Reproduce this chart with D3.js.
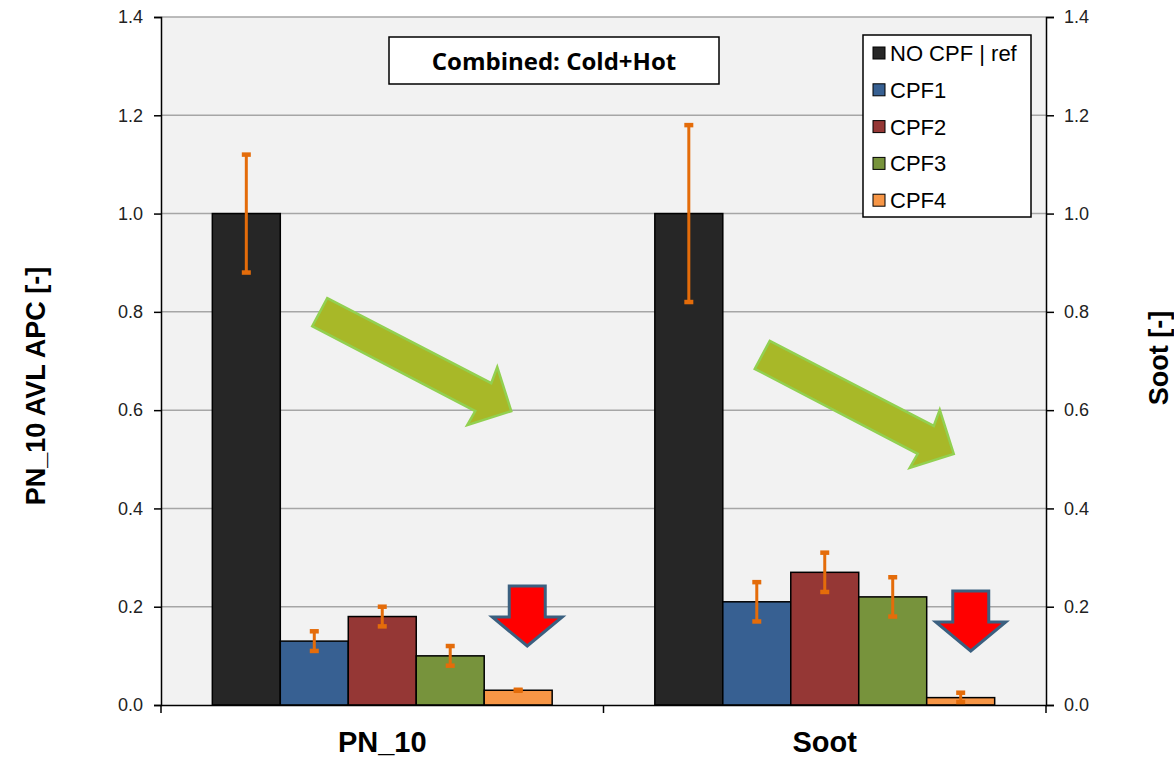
<!DOCTYPE html>
<html>
<head>
<meta charset="utf-8">
<script src="https://cdn.jsdelivr.net/npm/d3@7"></script>
<style>
  body { margin: 0; background: #fff; }
  svg { display: block; font-family: Arial, "Liberation Sans", sans-serif; }
</style>
</head>
<body>
<div id="chart"></div>
<script>
// data
const categories = ["PN_10", "Soot"];
const series = ["NO CPF | ref", "CPF1", "CPF2", "CPF3", "CPF4"];
const colors = ["#262626", "#376092", "#953735", "#77933c", "#f79646"];
const values = {
  "PN_10": [1.0, 0.13, 0.18, 0.10, 0.03],
  "Soot":  [1.0, 0.21, 0.27, 0.22, 0.015]
};
const errLow = {
  "PN_10": [0.88, 0.11, 0.16, 0.08, 0.029],
  "Soot":  [0.82, 0.17, 0.23, 0.18, 0.006]
};
const errHigh = {
  "PN_10": [1.12, 0.15, 0.20, 0.12, 0.031],
  "Soot":  [1.18, 0.25, 0.31, 0.26, 0.025]
};
const yTicks = [0, 0.2, 0.4, 0.6, 0.8, 1.0, 1.2, 1.4];

const W = 1174, H = 761;
const margin = { top: 17, right: 128, bottom: 56, left: 161 };
const width = W - margin.left - margin.right,
      height = H - margin.top - margin.bottom;

const svg = d3.select("#chart").append("svg")
  .attr("width", W).attr("height", H);
const g = svg.append("g")
  .attr("transform", `translate(${margin.left},${margin.top})`);

const x0 = d3.scaleBand().domain(categories).range([0, width])
  .paddingInner(0.232).paddingOuter(0.116);
const x1 = d3.scaleBand().domain(series).range([0, x0.bandwidth()]).padding(0);
const y = d3.scaleLinear().domain([0, 1.4]).range([height, 0]);

// plot area
g.append("rect").attr("width", width).attr("height", height).attr("fill", "#f2f2f2");

// gridlines
g.selectAll("line.grid").data(yTicks.filter(d => d > 0)).enter().append("line")
  .attr("class", "grid")
  .attr("x1", 0).attr("x2", width)
  .attr("y1", d => y(d)).attr("y2", d => y(d))
  .attr("stroke", "#a6a6a6").attr("stroke-width", 1.5);

// bars
const groups = g.selectAll("g.cat").data(categories).enter().append("g")
  .attr("class", "cat")
  .attr("transform", d => `translate(${x0(d)},0)`);

groups.selectAll("rect").data(c => series.map((s, i) => ({ c, s, i, v: values[c][i] })))
  .enter().append("rect")
  .attr("x", d => x1(d.s))
  .attr("y", d => y(d.v))
  .attr("width", x1.bandwidth())
  .attr("height", d => y(0) - y(d.v))
  .attr("fill", d => colors[d.i])
  .attr("stroke", "#000").attr("stroke-width", 1.5);

// error bars
const errData = c => series.map((s, i) => ({ s, lo: errLow[c][i], hi: errHigh[c][i] }));
const eb = groups.selectAll("g.err").data(errData).enter().append("g").attr("class", "err");
eb.append("line")
  .attr("x1", d => x1(d.s) + x1.bandwidth() / 2).attr("x2", d => x1(d.s) + x1.bandwidth() / 2)
  .attr("y1", d => y(d.lo)).attr("y2", d => y(d.hi))
  .attr("stroke", "#e46c0a").attr("stroke-width", 3);
["lo", "hi"].forEach(k => {
  eb.append("line")
    .attr("x1", d => x1(d.s) + x1.bandwidth() / 2 - 4.5).attr("x2", d => x1(d.s) + x1.bandwidth() / 2 + 4.5)
    .attr("y1", d => y(d[k])).attr("y2", d => y(d[k]))
    .attr("stroke", "#e46c0a").attr("stroke-width", 4.5);
});

// green trend arrows (offsets relative to tip)
const greenShape = [[-184, -113], [-20, -28], [-14, -44], [0, 0], [-44, 14], [-36, 0], [-199, -85]];
const greenTips = [{ c: "PN_10", dx: 129, v: 0.598 }, { c: "Soot", dx: 129, v: 0.511 }];
greenTips.forEach(t => {
  const tx = x0(t.c) + x0.bandwidth() / 2 + t.dx, ty = y(t.v);
  g.append("polygon")
    .attr("points", greenShape.map(p => [tx + p[0], ty + p[1]].join(",")).join(" "))
    .attr("fill", "#a8b828").attr("stroke", "#92d050").attr("stroke-width", 2.5)
    .attr("stroke-linejoin", "miter");
});

// red down arrows
const redShape = [[-18, -60], [18, -60], [18, -29], [35, -29], [0, 0], [-35, -29], [-18, -29]];
const redTips = [{ c: "PN_10", dx: 145, v: 0.12 }, { c: "Soot", dx: 146, v: 0.11 }];
redTips.forEach(t => {
  const tx = x0(t.c) + x0.bandwidth() / 2 + t.dx, ty = y(t.v);
  g.append("polygon")
    .attr("points", redShape.map(p => [tx + p[0], ty + p[1]].join(",")).join(" "))
    .attr("fill", "#ff0000").attr("stroke", "#3b6080").attr("stroke-width", 3);
});

// axes
const yL = g.append("g").call(d3.axisLeft(y).tickValues(yTicks).tickFormat(d3.format(".1f")).tickSize(7).tickPadding(11));
const yR = g.append("g").attr("transform", `translate(${width},0)`)
  .call(d3.axisRight(y).tickValues(yTicks).tickFormat(d3.format(".1f")).tickSize(8).tickPadding(10));
[yL, yR].forEach(a => {
  a.select(".domain").attr("stroke", "#000").attr("stroke-width", 1.5);
  a.selectAll(".tick line").attr("stroke", "#000").attr("stroke-width", 1.5);
  a.selectAll(".tick text").attr("fill", "#222").style("font-size", "18px")
    .style("font-family", "Arial, 'Liberation Sans', sans-serif");
});

const xAx = g.append("g").attr("transform", `translate(0,${height})`)
  .call(d3.axisBottom(x0).tickSize(0).tickPadding(26));
xAx.select(".domain").attr("stroke", "#000").attr("stroke-width", 1.5);
xAx.selectAll(".tick text").attr("fill", "#000").style("font-size", "29px").style("font-weight", "bold")
  .style("font-family", "Arial, 'Liberation Sans', sans-serif");
// category divider ticks
g.selectAll("line.div").data([0, (x0("PN_10") + x0.bandwidth() + x0("Soot")) / 2, width]).enter().append("line")
  .attr("x1", d => d).attr("x2", d => d)
  .attr("y1", height).attr("y2", height + 8)
  .attr("stroke", "#000").attr("stroke-width", 1.5);

// axis titles
svg.append("text")
  .attr("transform", `translate(45,${margin.top + height / 2 + 25}) rotate(-90)`)
  .attr("text-anchor", "middle")
  .style("font-size", "27px").style("font-weight", "bold")
  .text("PN_10 AVL APC [-]");
svg.append("text")
  .attr("transform", `translate(1168,${margin.top + height / 2 - 3}) rotate(-90)`)
  .attr("text-anchor", "middle")
  .style("font-size", "27px").style("font-weight", "bold")
  .text("Soot [-]");

// title box
svg.append("rect").attr("x", 389).attr("y", 37).attr("width", 330).attr("height", 47)
  .attr("fill", "#fff").attr("stroke", "#000").attr("stroke-width", 1.5);
svg.append("text").attr("x", 554).attr("y", 70).attr("text-anchor", "middle")
  .style("font-family", "'Open Sans', 'Noto Sans', sans-serif")
  .style("font-size", "24px").style("font-weight", "bold")
  .text("Combined: Cold+Hot");

// legend
const leg = svg.append("g").attr("transform", "translate(863,35)");
leg.append("rect").attr("width", 168).attr("height", 182)
  .attr("fill", "#fff").attr("stroke", "#000").attr("stroke-width", 1.5);
const li = leg.selectAll("g.item").data(series).enter().append("g")
  .attr("transform", (d, i) => `translate(0,${18 + i * 36.8})`);
li.append("rect").attr("x", 10).attr("y", -6).attr("width", 12).attr("height", 12)
  .attr("fill", (d, i) => colors[i]).attr("stroke", "#000").attr("stroke-width", 1);
li.append("text").attr("x", 27).attr("y", 8)
  .style("font-size", "22px").attr("fill", "#000")
  .text(d => d);
</script>
</body>
</html>
